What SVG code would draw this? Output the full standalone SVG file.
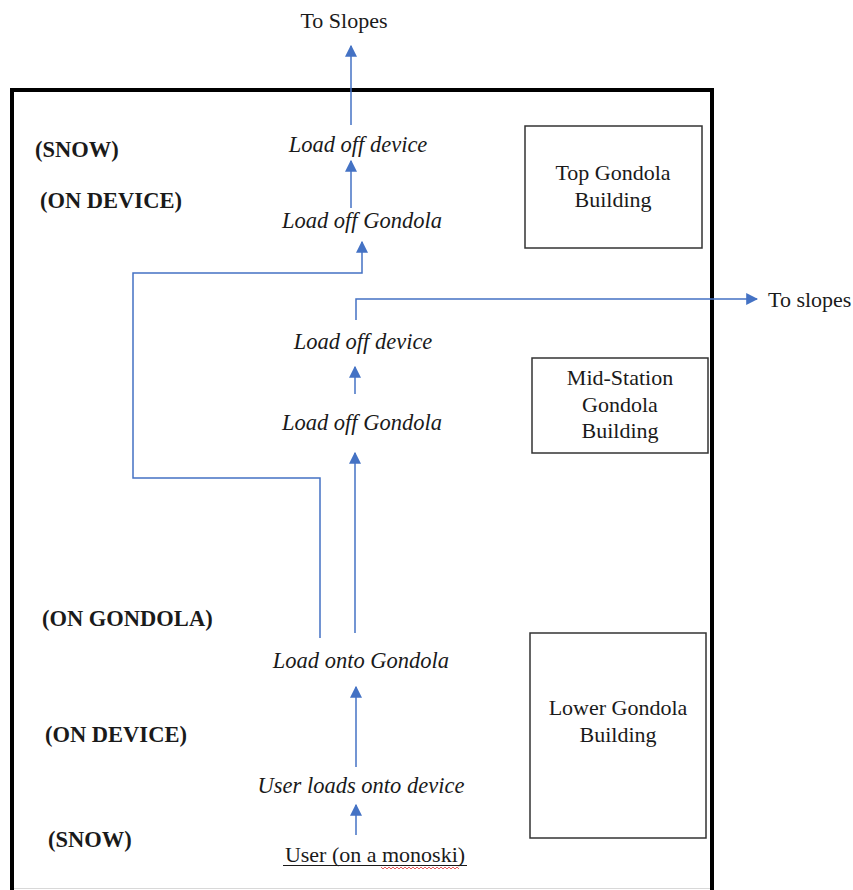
<svg xmlns="http://www.w3.org/2000/svg" width="853" height="890" viewBox="0 0 853 890">
<style>
.t{font-family:"Liberation Serif","Times New Roman",serif;fill:#1a1a1a}
.r{font-size:22px}
.i{font-size:22.5px;font-style:italic}
.b{font-size:22.5px;font-weight:bold}
.box{fill:none;stroke:#333;stroke-width:1.5}
.c{fill:none;stroke:#4472C4;stroke-width:1.5}
</style>
<defs>
<marker id="ah2" viewBox="0 0 10 10" refX="9" refY="5" markerWidth="12" markerHeight="12" markerUnits="userSpaceOnUse" orient="auto">
<path d="M0,0 L10,5 L0,10 z" fill="#4472C4"/>
</marker>
</defs>
<rect width="853" height="890" fill="#fff"/>
<g id="frame">
<path d="M12,892 V90 H712 V892" fill="none" stroke="#000" stroke-width="4"/>
<line x1="14" y1="888.5" x2="710" y2="888.5" stroke="#d8d8d8" stroke-width="1"/>
</g>
<g id="connectors">
<path class="c" d="M351,125 V46" marker-end="url(#ah2)"/>
<path class="c" d="M351,208 V161" marker-end="url(#ah2)"/>
<path class="c" d="M320,638 V478 H133 V273 H362 V242" marker-end="url(#ah2)"/>
<path class="c" d="M356,320 V299 H757" marker-end="url(#ah2)"/>
<path class="c" d="M355,394 V367" marker-end="url(#ah2)"/>
<path class="c" d="M355,633 V453" marker-end="url(#ah2)"/>
<path class="c" d="M356,767 V687" marker-end="url(#ah2)"/>
<path class="c" d="M356,835 V805" marker-end="url(#ah2)"/>
</g>
<g id="to-slopes-top"><text class="t r" x="344" y="28" text-anchor="middle">To Slopes</text></g>
<g id="to-slopes-right"><text class="t r" x="768" y="307">To slopes</text></g>
<g id="label-snow-top"><text class="t b" x="35" y="157">(SNOW)</text></g>
<g id="label-ondevice-top"><text class="t b" x="40" y="208">(ON DEVICE)</text></g>
<g id="label-ongondola"><text class="t b" x="42" y="626">(ON GONDOLA)</text></g>
<g id="label-ondevice-bottom"><text class="t b" x="45" y="742">(ON DEVICE)</text></g>
<g id="label-snow-bottom"><text class="t b" x="48" y="847">(SNOW)</text></g>
<g id="top-load-off-device"><text class="t i" x="358" y="152" text-anchor="middle">Load off device</text></g>
<g id="top-load-off-gondola"><text class="t i" x="362" y="228" text-anchor="middle">Load off Gondola</text></g>
<g id="mid-load-off-device"><text class="t i" x="363" y="349" text-anchor="middle">Load off device</text></g>
<g id="mid-load-off-gondola"><text class="t i" x="362" y="430" text-anchor="middle">Load off Gondola</text></g>
<g id="load-onto-gondola"><text class="t i" x="361" y="668" text-anchor="middle">Load onto Gondola</text></g>
<g id="user-loads"><text class="t i" x="361" y="793" text-anchor="middle">User loads onto device</text></g>
<g id="user">
<text class="t r" x="375" y="862" text-anchor="middle">User (on a monoski)</text>
<line x1="283" y1="865.5" x2="467" y2="865.5" stroke="#1a1a1a" stroke-width="1"/>
<path d="M381,867 l2,2 l2,-2 l2,2 l2,-2 l2,2 l2,-2 l2,2 l2,-2 l2,2 l2,-2 l2,2 l2,-2 l2,2 l2,-2 l2,2 l2,-2 l2,2 l2,-2 l2,2 l2,-2 l2,2 l2,-2 l2,2 l2,-2 l2,2 l2,-2 l2,2 l2,-2 l2,2 l2,-2 l2,2 l2,-2 l2,2 l2,-2 l2,2 l2,-2 l2,2 l2,-2 l2,2" fill="none" stroke="#e03030" stroke-width="0.8"/>
</g>
<g id="top-building">
<rect class="box" x="525" y="126" width="177" height="122"/>
<text class="t r" x="613" y="180" text-anchor="middle">Top Gondola</text>
<text class="t r" x="613" y="207" text-anchor="middle">Building</text>
</g>
<g id="mid-building">
<rect class="box" x="532" y="358" width="176" height="95"/>
<text class="t r" x="620" y="385" text-anchor="middle">Mid-Station</text>
<text class="t r" x="620" y="412" text-anchor="middle">Gondola</text>
<text class="t r" x="620" y="438" text-anchor="middle">Building</text>
</g>
<g id="lower-building">
<rect class="box" x="530" y="633" width="176" height="205"/>
<text class="t r" x="618" y="715" text-anchor="middle">Lower Gondola</text>
<text class="t r" x="618" y="742" text-anchor="middle">Building</text>
</g>
</svg>
